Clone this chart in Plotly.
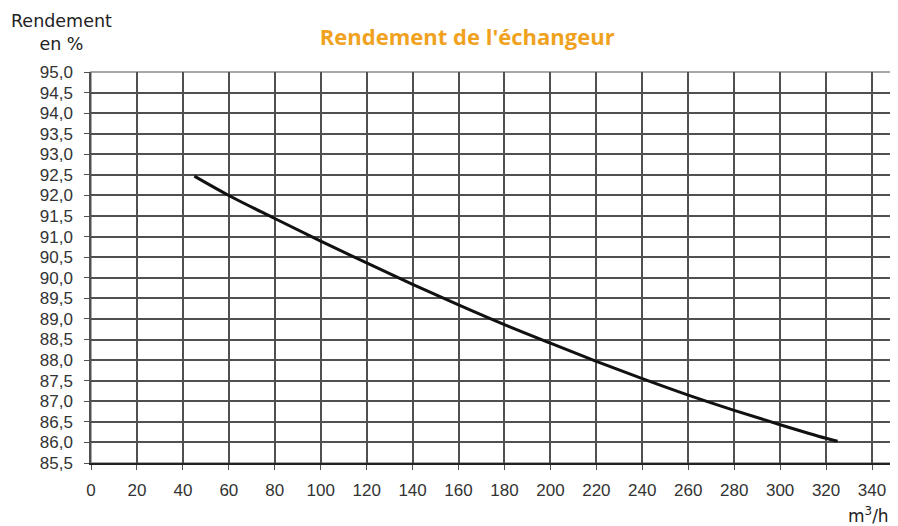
import plotly.graph_objects as go

# debit (m3/h) and rendement (%)
debit = [45, 60, 80, 100, 120, 140, 160, 180, 200, 220, 240, 260, 280, 300, 320, 325]
rendement = [92.47, 92.0, 91.44, 90.89, 90.36, 89.84, 89.34, 88.86, 88.41,
             87.97, 87.55, 87.15, 86.78, 86.43, 86.1, 86.03]

x_ticks = list(range(0, 341, 20))
y_ticks = [85.5 + 0.5 * i for i in range(20)]

fig = go.Figure()
fig.add_trace(go.Scatter(x=debit, y=rendement, mode='lines', line_shape='spline',
                         line=dict(color='#111111', width=3), showlegend=False))

tick_font = dict(family='Liberation Sans, Arial', size=17, color='#333333')
grid = '#505050'

# page body adds 8px, so figure is 890x518 inside the 898x526 window
fig.update_layout(
    width=890, height=518,
    margin=dict(l=83, r=3, t=64, b=63),
    paper_bgcolor='white', plot_bgcolor='white',
    separators=', ',
    title=dict(text="<b>Rendement de l'échangeur</b>", x=0.516, xanchor='center',
               y=0.944, yanchor='middle',
               font=dict(family='Open Sans', size=22, color='#F0A21E')),
    xaxis=dict(range=[0, 350], tickvals=x_ticks, showgrid=True, gridcolor=grid,
               gridwidth=1.5, ticks='outside', ticklen=5, tickcolor=grid,
               tickfont=tick_font, ticklabelstandoff=6,
               showline=True, linecolor='#222222', linewidth=2, mirror=False,
               zeroline=False, fixedrange=True),
    yaxis=dict(range=[85.5, 95], tickvals=y_ticks, tickformat='.1f', showgrid=True,
               gridcolor=grid, gridwidth=1.5, ticks='outside', ticklen=5,
               tickcolor=grid, tickfont=tick_font, ticklabelstandoff=8,
               showline=True, linecolor=grid, linewidth=1.5,
               zeroline=False, fixedrange=True),
)

# light right/top border
fig.add_shape(type='rect', xref='paper', yref='paper', x0=0, y0=0, x1=1, y1=1,
              line=dict(color='#8a8a8a', width=1.5), layer='below')

fig.add_annotation(text='Rendement<br>en %', xref='paper', yref='paper',
                   x=-0.037, y=1.162, xanchor='center', yanchor='top', showarrow=False,
                   align='center', font=dict(family='DejaVu Sans', size=17.5, color='#222222'))
fig.add_annotation(text='m<sup>3</sup>/h', xref='paper', yref='paper',
                   x=0.9955, y=-0.133, xanchor='right', yanchor='middle', showarrow=False,
                   font=dict(family='DejaVu Sans', size=17, color='#222222'))

fig.write_html('out.html')
